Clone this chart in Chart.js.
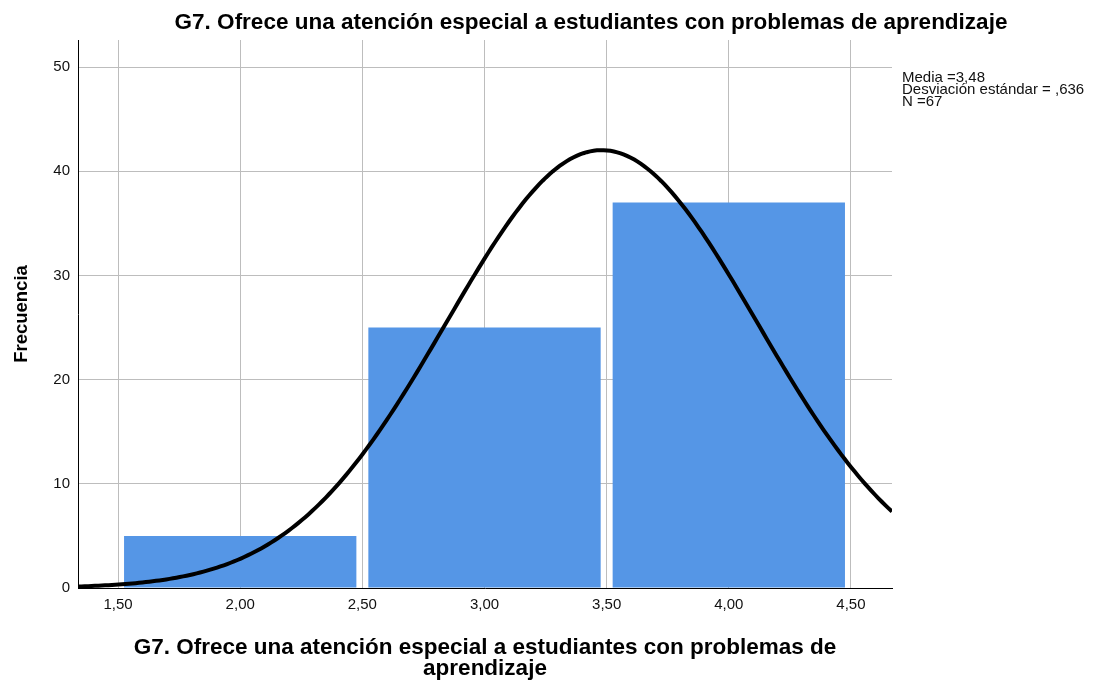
<!DOCTYPE html>
<html>
<head>
<meta charset="utf-8">
<script src="https://cdn.jsdelivr.net/npm/chart.js@4/dist/chart.umd.min.js"></script>
<style>
  html, body { margin: 0; padding: 0; background: #ffffff; }
  #wrap { width: 1094px; height: 686px; position: relative; }
</style>
</head>
<body>
<div id="wrap"><canvas id="hist" width="1094" height="686"></canvas></div>
<script>
// Histogram: bin centres and frequencies
const binCenters = [2, 3, 4];
const frequencies = [5, 25, 37];
const xTicks = [1.5, 2.0, 2.5, 3.0, 3.5, 4.0, 4.5];
const yTicks = [0, 10, 20, 30, 40, 50];

// Summary statistics shown beside the plot
const media = 3.48;
const desviacion = 0.636;
const nCasos = 67;
const anchoIntervalo = 1;
const pasoTicks = 0.5;

const xMin = 1.336, xMax = 4.668;
const yMin = 0, yMax = 52.6;

const titulo = 'G7. Ofrece una atención especial a estudiantes con problemas de aprendizaje';
const tituloX = ['G7. Ofrece una atención especial a estudiantes con problemas de', 'aprendizaje'];
const tituloY = 'Frecuencia';
const estadisticos = ['Media =3,48', 'Desviación estándar = ,636', 'N =67'];

// Fitted normal curve scaled to the histogram (N * bin width * density)
const curvaX = [];
for (let i = 0; i <= 240; i++) curvaX.push(xMin + (xMax - xMin) * i / 240);
const curva = curvaX.map(x => ({
  x: x,
  y: nCasos * anchoIntervalo / (desviacion * Math.sqrt(2 * Math.PI)) *
     Math.exp(-0.5 * Math.pow((x - media) / desviacion, 2))
}));

const fmt = v => v.toFixed(2).replace('.', ',');
const FONT = '"Liberation Sans", Arial, sans-serif';

const textPlugin = {
  id: 'textos',
  afterDraw(chart) {
    const ctx = chart.ctx;
    ctx.save();
    ctx.fillStyle = '#000';
    ctx.textAlign = 'center';
    ctx.textBaseline = 'alphabetic';
    ctx.font = 'bold 22.5px ' + FONT;
    ctx.fillText(titulo, 591, 29);
    ctx.textAlign = 'left';
    ctx.font = '15px ' + FONT;
    ctx.fillStyle = '#111';
    estadisticos.forEach((t, i) => ctx.fillText(t, 902, 81.8 + i * 12.3));
    ctx.restore();
  }
};

new Chart(document.getElementById('hist'), {
  type: 'bar',
  data: {
    datasets: [
      {
        type: 'line',
        data: curva,
        borderColor: '#000',
        borderWidth: 4,
        pointRadius: 0,
        tension: 0,
        fill: false,
        order: 0
      },
      {
        type: 'bar',
        data: binCenters.map((c, i) => ({ x: c, y: frequencies[i] })),
        backgroundColor: '#5596e6',
        borderWidth: 0,
        categoryPercentage: 1,
        // bar slot is one tick step wide; bins span two steps
        barPercentage: 0.951 * anchoIntervalo / pasoTicks,
        order: 1
      }
    ]
  },
  options: {
    responsive: false,
    animation: false,
    devicePixelRatio: 1,
    layout: { padding: { left: 0, right: 202, top: 40, bottom: 0 } },
    plugins: { legend: { display: false }, tooltip: { enabled: false } },
    scales: {
      x: {
        type: 'linear',
        offset: false,
        min: xMin, max: xMax,
        afterBuildTicks: s => { s.ticks = xTicks.map(v => ({ value: v })); },
        afterFit: s => { s.height = 98; },
        grid: { color: '#bdbdbd', lineWidth: 1, drawTicks: false, offset: false },
        border: { color: '#000', width: 1 },
        ticks: {
          padding: 8,
          color: '#111',
          font: { family: FONT, size: 15 },
          callback: v => fmt(v),
          maxRotation: 0
        },
        title: {
          display: true,
          text: tituloX,
          color: '#000',
          font: { family: FONT, size: 22.5, weight: 'bold', lineHeight: 0.933 },
          padding: { top: 0, bottom: 6.5 }
        }
      },
      y: {
        min: yMin, max: yMax,
        afterBuildTicks: s => { s.ticks = yTicks.map(v => ({ value: v })); },
        afterFit: s => { s.width = 78; },
        grid: { color: '#bdbdbd', lineWidth: 1, drawTicks: false },
        border: { color: '#000', width: 1 },
        ticks: {
          padding: 8,
          color: '#111',
          font: { family: FONT, size: 15 }
        },
        title: {
          display: true,
          text: tituloY,
          color: '#000',
          font: { family: FONT, size: 18.5, weight: 'bold', lineHeight: 1.1 },
          padding: { top: 12, bottom: 0 }
        }
      }
    }
  },
  plugins: [textPlugin]
});
</script>
</body>
</html>
